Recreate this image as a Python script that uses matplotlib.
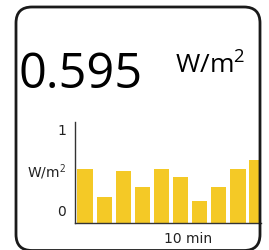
import matplotlib.pyplot as plt
from matplotlib.patches import FancyBboxPatch

W, H = 269, 250

# values (bars of the last readings)
minutes = list(range(10))
irradiance = [0.53, 0.255, 0.51, 0.36, 0.53, 0.46, 0.22, 0.36, 0.53, 0.625]
current_value = "0.595"
unit = "W/m$^2$"
y_labels = ["1", "0"]
x_label = "10 min"

plt.rcParams['mathtext.fontset'] = 'custom'
plt.rcParams['mathtext.rm'] = 'Open Sans'

fig = plt.figure(figsize=(W / 100, H / 100), dpi=100)
fig.patch.set_facecolor('white')

def fx(px):
    return px / W

def fy(py):
    return 1 - py / H

# bar chart
ax = fig.add_axes([fx(74.5), fy(223), fx(261) - fx(74.5), fy(122) - fy(223)])
ax.bar(minutes, irradiance, width=0.8, color='#F4C926')
ax.set_xlim(-0.555, 9.21)
ax.set_ylim(0, 1)
for s in ['top', 'right']:
    ax.spines[s].set_visible(False)
for s in ['left', 'bottom']:
    ax.spines[s].set_color('#333333')
    ax.spines[s].set_linewidth(1.0)
ax.set_xticks([])
ax.set_yticks([])
ax.patch.set_alpha(0)

# axis texts
fig.text(fx(66), fy(131), y_labels[0], ha='right', va='center', fontsize=10, color='#222222')
fig.text(fx(66), fy(172), "W/m$^2$", ha='right', va='center', fontsize=10, color='#222222')
fig.text(fx(66), fy(212), y_labels[1], ha='right', va='center', fontsize=10, color='#222222')
fig.text(fx(188), fy(239), x_label, ha='center', va='center', fontsize=10, color='#222222')

# big value
fig.text(fx(18.5), fy(88), current_value, ha='left', va='baseline',
         fontsize=35, family='Open Sans', color='black')
fig.text(fx(175), fy(73), unit, ha='left', va='baseline',
         fontsize=19, family='Open Sans', color='black')

# card border (bottom edge runs just off the picture)
card = FancyBboxPatch((16, 250 - 250.5), 244, 243.5,
                      boxstyle='round,pad=0,rounding_size=16',
                      transform=None, facecolor='none', edgecolor='#1a1a1a',
                      linewidth=2.0, zorder=10)
fig.patches.append(card)

fig.savefig('out.png', dpi=100)
